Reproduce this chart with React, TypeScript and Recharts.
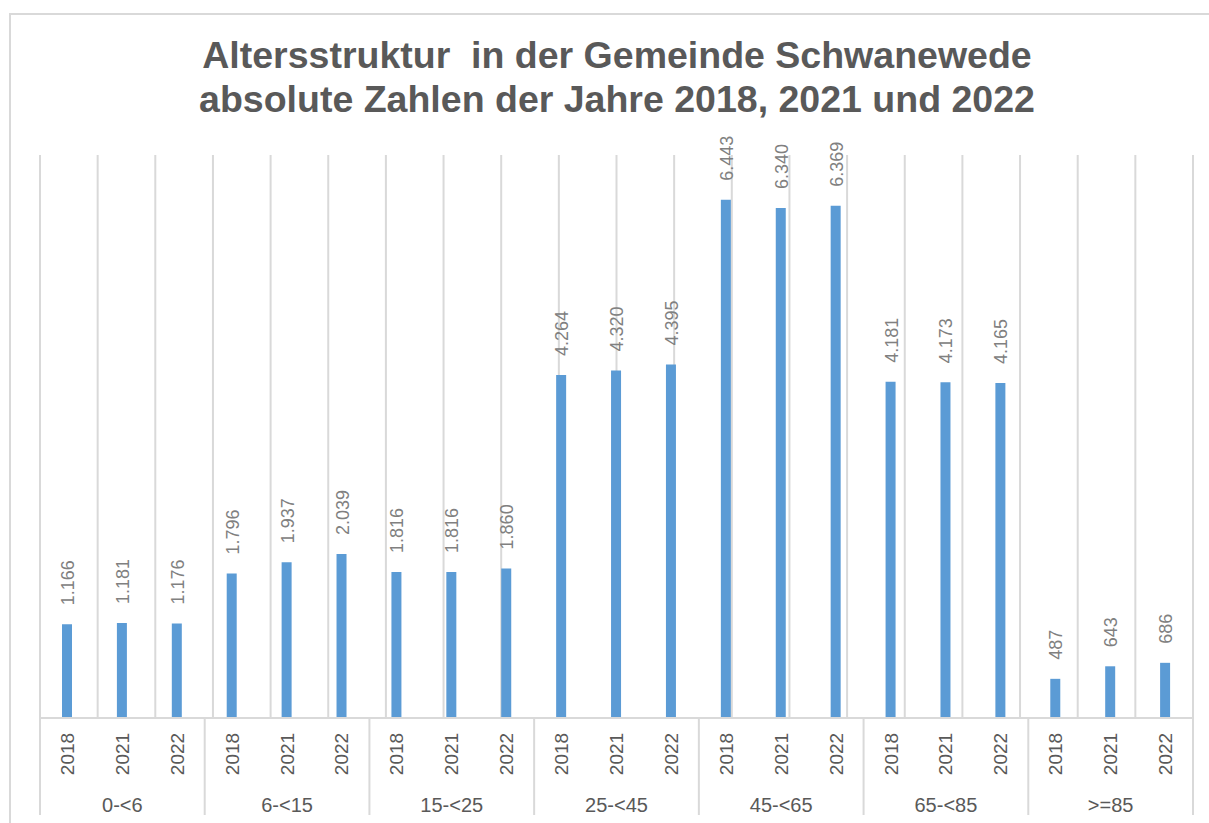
import React from "react";
import { BarChart, Bar, XAxis, YAxis, CartesianGrid, LabelList } from "recharts";

const groups = ["0-<6", "6-<15", "15-<25", "25-<45", "45-<65", "65-<85", ">=85"];
const years = ["2018", "2021", "2022"];
const values2018 = [1166, 1796, 1816, 4264, 6443, 4181, 487];
const values2021 = [1181, 1937, 1816, 4320, 6340, 4173, 643];
const values2022 = [1176, 2039, 1860, 4395, 6369, 4165, 686];

const seriesByYear = [values2018, values2021, values2022];

const data = groups.flatMap((group, gi) =>
  years.map((year, yi) => ({
    key: `${group} ${year}`,
    group,
    year,
    value: seriesByYear[yi][gi],
  }))
);

const gridTicks = Array.from({ length: data.length + 1 }, (_, i) => i);

const FONT = '"Liberation Sans", Arial, sans-serif';
const GRID = "#d9d9d9";
const TEXT = "#595959";

const fmt = (v: number) => String(v).replace(/\B(?=(\d{3})+(?!\d))/g, ".");

function CategoryTick(props: any) {
  const { x, y, payload } = props;
  const i = payload.index;
  const row = data[i];
  const half = payload.offset || 0;
  const ty = y + 36;
  return (
    <g>
      <text
        x={x}
        y={ty}
        transform={`rotate(-90, ${x}, ${ty})`}
        textAnchor="middle"
        dominantBaseline="central"
        fill={TEXT}
        fontSize={19}
        fontFamily={FONT}
      >
        {row.year}
      </text>
      {i % years.length === 1 && (
        <text
          x={x}
          y={y + 94}
          textAnchor="middle"
          fill={TEXT}
          fontSize={20}
          fontFamily={FONT}
        >
          {row.group}
        </text>
      )}
      {i % years.length === 0 && (
        <line x1={x - half} x2={x - half} y1={y} y2={y + 97} stroke={GRID} strokeWidth={2} />
      )}
      {i === data.length - 1 && (
        <line x1={x + half} x2={x + half} y1={y} y2={y + 97} stroke={GRID} strokeWidth={2} />
      )}
    </g>
  );
}

function ValueLabel(props: any) {
  const { x, y, width, value } = props;
  const cx = x + width / 2 + 1;
  const ty = y - 19;
  return (
    <text
      x={cx}
      y={ty}
      transform={`rotate(-90, ${cx}, ${ty})`}
      textAnchor="start"
      dominantBaseline="central"
      fill="#808080"
      fontSize={18}
      fontFamily={FONT}
    >
      {fmt(value)}
    </text>
  );
}

export default function App() {
  return (
    <div style={{ position: "relative", width: 1209, height: 823, overflow: "hidden", background: "#fff" }}>
      <style>{`body{margin:0;overflow:hidden}`}</style>
      <div
        style={{
          position: "absolute",
          left: 9,
          top: 13,
          width: 1300,
          height: 900,
          borderTop: `2px solid ${GRID}`,
          borderLeft: `2px solid ${GRID}`,
        }}
      />
      <div
        style={{
          position: "absolute",
          left: 0,
          top: 33,
          width: 1234,
          textAlign: "center",
          fontFamily: FONT,
          fontWeight: "bold",
          fontSize: 37.5,
          lineHeight: "44px",
          color: TEXT,
          whiteSpace: "pre",
        }}
      >
        {"Altersstruktur  in der Gemeinde Schwanewede"}
        <br />
        absolute Zahlen der Jahre 2018, 2021 und 2022
      </div>
      <div style={{ position: "absolute", left: 0, top: 0 }}>
        <BarChart
          width={1209}
          height={823}
          data={data}
          margin={{ top: 155, right: 16, bottom: 0, left: 40 }}
        >
          <CartesianGrid xAxisId="grid" vertical horizontal={false} stroke={GRID} strokeWidth={2} />
          <XAxis
            xAxisId="grid"
            type="number"
            domain={[0, data.length]}
            ticks={gridTicks}
            interval={0}
            hide
          />
          <XAxis
            xAxisId="cat"
            dataKey="key"
            interval={0}
            height={105}
            tickSize={0}
            tickMargin={0}
            tickLine={false}
            axisLine={{ stroke: GRID, strokeWidth: 2 }}
            tick={<CategoryTick />}
          />
          <YAxis hide domain={[0, 7000]} />
          <Bar xAxisId="cat" dataKey="value" fill="#5b9bd5" barSize={10} isAnimationActive={false}>
            <LabelList dataKey="value" content={<ValueLabel />} />
          </Bar>
        </BarChart>
      </div>
    </div>
  );
}
